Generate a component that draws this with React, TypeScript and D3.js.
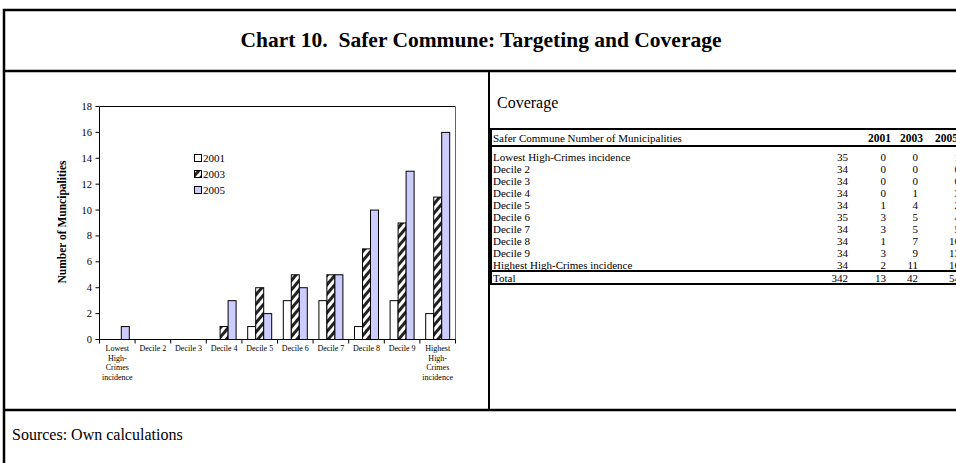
import React from "react";
import * as d3 from "d3";

const categories = [
  "Lowest High-Crimes incidence",
  "Decile 2",
  "Decile 3",
  "Decile 4",
  "Decile 5",
  "Decile 6",
  "Decile 7",
  "Decile 8",
  "Decile 9",
  "Highest High-Crimes incidence",
];
const axisLabelLines = [
  ["Lowest", "High-", "Crimes", "incidence"],
  ["Decile 2"],
  ["Decile 3"],
  ["Decile 4"],
  ["Decile 5"],
  ["Decile 6"],
  ["Decile 7"],
  ["Decile 8"],
  ["Decile 9"],
  ["Highest", "High-", "Crimes", "incidence"],
];
const years = ["2001", "2003", "2005"];
const values2001 = [0, 0, 0, 0, 1, 3, 3, 1, 3, 2];
const values2003 = [0, 0, 0, 1, 4, 5, 5, 7, 9, 11];
const values2005 = [1, 0, 0, 3, 2, 4, 5, 10, 13, 16];
const municipalities = [35, 34, 34, 34, 34, 35, 34, 34, 34, 34];
const yTicks = [0, 2, 4, 6, 8, 10, 12, 14, 16, 18];

const title = "Chart 10.  Safer Commune: Targeting and Coverage";
const yTitle = "Number of Muncipalities";
const tableTitle = "Coverage";
const tableHeader = "Safer Commune Number of Municipalities";
const source = "Sources: Own calculations";

const SERIF = "'Liberation Serif', 'Times New Roman', serif";

export default function App() {
  const series = [values2001, values2003, values2005];
  const fills = ["#ffffff", "url(#hatch)", "#ccccff"];

  const x = d3.scaleBand<string>().domain(categories).range([99.5, 455.5]);
  const inner = d3.scaleBand<string>().domain(years).range([0, 24]);
  const y = d3.scaleLinear().domain([0, 18]).range([339.5, 106.5]);

  const rowY = d3.scaleBand<string>().domain(categories).range([151, 271]);

  const totals = [
    d3.sum(municipalities),
    d3.sum(values2001),
    d3.sum(values2003),
    d3.sum(values2005),
  ];

  const colRight = [848, 886, 918, 960];
  const headerRight = [891, 923, 958];

  return (
    <svg
      width={956}
      height={463}
      style={{ position: "absolute", left: 0, top: 0, background: "#fff" }}
      fontFamily={SERIF}
    >
      <defs>
        <pattern
          id="hatch"
          patternUnits="userSpaceOnUse"
          width={6}
          height={6}
          patternTransform="rotate(40)"
        >
          <rect x={0} y={0} width={6} height={6} fill="#fff" />
          <rect x={0} y={0} width={3} height={6} fill="#222" />
        </pattern>
      </defs>

      {/* outer frame */}
      <rect x={4} y={10} width={1000} height={500} fill="none" stroke="#000" strokeWidth={2.5} />
      <line x1={4} x2={970} y1={71} y2={71} stroke="#000" strokeWidth={2.5} />
      <line x1={4} x2={970} y1={410} y2={410} stroke="#000" strokeWidth={2.5} />
      <line x1={489} x2={489} y1={71} y2={410} stroke="#000" strokeWidth={2} />

      <text
        x={481}
        y={40}
        textAnchor="middle"
        dominantBaseline="central"
        fontWeight="bold"
        fontSize={21.5}
        style={{ whiteSpace: "pre" }}
      >
        {title}
      </text>

      {/* chart */}
      <g>
        <line x1={99.5} x2={455.5} y1={y(18)} y2={y(18)} stroke="#000" strokeWidth={1} />
        <line x1={455.5} x2={455.5} y1={y(18)} y2={y(0)} stroke="#666" strokeWidth={1} />

        {categories.map((c, i) =>
          series.map((s, j) =>
            s[i] > 0 ? (
              <rect
                key={c + j}
                x={(x(c) as number) + (x.bandwidth() - 24) / 2 + (inner(years[j]) as number)}
                y={y(s[i])}
                width={inner.bandwidth()}
                height={y(0) - y(s[i])}
                fill={fills[j]}
                stroke="#000"
                strokeWidth={1}
              />
            ) : null
          )
        )}

        <line x1={99.5} x2={99.5} y1={y(18)} y2={y(0)} stroke="#000" strokeWidth={1} />
        {yTicks.map((t) => (
          <g key={t}>
            <line x1={95.5} x2={99.5} y1={y(t)} y2={y(t)} stroke="#000" />
            <text x={92} y={y(t)} textAnchor="end" dominantBaseline="central" fontSize={10.5}>
              {t}
            </text>
          </g>
        ))}
        <line x1={99.5} x2={455.5} y1={y(0)} y2={y(0)} stroke="#000" strokeWidth={1} />
        {categories.map((c) => (
          <line
            key={"t" + c}
            x1={x(c) as number}
            x2={x(c) as number}
            y1={y(0)}
            y2={y(0) + 4}
            stroke="#000"
          />
        ))}
        <line x1={455.5} x2={455.5} y1={y(0)} y2={y(0) + 4} stroke="#000" />
        {categories.map((c, i) => (
          <text
            key={"l" + c}
            x={(x(c) as number) + x.bandwidth() / 2}
            y={351}
            textAnchor="middle"
            fontSize={8}
          >
            {axisLabelLines[i].map((ln, k) => (
              <tspan key={k} x={(x(c) as number) + x.bandwidth() / 2} dy={k === 0 ? 0 : 9.5}>
                {ln}
              </tspan>
            ))}
          </text>
        ))}

        <text
          transform="translate(62,222) rotate(-90)"
          textAnchor="middle"
          dominantBaseline="central"
          fontSize={11.5}
          fontWeight="bold"
        >
          {yTitle}
        </text>

        {years.map((yr, j) => (
          <g key={yr} transform={`translate(194,${158 + j * 16})`}>
            <rect x={0.5} y={-3.5} width={7} height={7} fill={fills[j]} stroke="#000" />
            <text x={9} y={0} dominantBaseline="central" fontSize={11}>
              {yr}
            </text>
          </g>
        ))}
      </g>

      {/* table */}
      <g fontSize={11}>
        <text x={497} y={102} dominantBaseline="central" fontSize={16}>
          {tableTitle}
        </text>
        <rect x={491} y={129} width={500} height={155} fill="none" stroke="#000" strokeWidth={2} />
        <line x1={491} x2={991} y1={146} y2={146} stroke="#000" strokeWidth={2} />
        <line x1={491} x2={991} y1={271} y2={271} stroke="#000" strokeWidth={2} />
        <text x={493} y={137.5} dominantBaseline="central" fontSize={11}>
          {tableHeader}
        </text>
        {years.map((yr, j) => (
          <text
            key={yr}
            x={headerRight[j]}
            y={137.5}
            textAnchor="end"
            dominantBaseline="central"
            fontWeight="bold"
            fontSize={11.5}
          >
            {yr}
          </text>
        ))}
        {categories.map((c, i) => {
          const cy = (rowY(c) as number) + rowY.bandwidth() / 2;
          const vals = [municipalities[i], values2001[i], values2003[i], values2005[i]];
          return (
            <g key={"r" + c}>
              <text x={493} y={cy} dominantBaseline="central">
                {c}
              </text>
              {vals.map((v, k) => (
                <text key={k} x={colRight[k]} y={cy} textAnchor="end" dominantBaseline="central">
                  {v}
                </text>
              ))}
            </g>
          );
        })}
        <text x={493} y={277.5} dominantBaseline="central">
          Total
        </text>
        {totals.map((v, k) => (
          <text key={k} x={colRight[k]} y={277.5} textAnchor="end" dominantBaseline="central">
            {v}
          </text>
        ))}
      </g>

      <text x={12} y={434} dominantBaseline="central" fontSize={16}>
        {source}
      </text>
    </svg>
  );
}
